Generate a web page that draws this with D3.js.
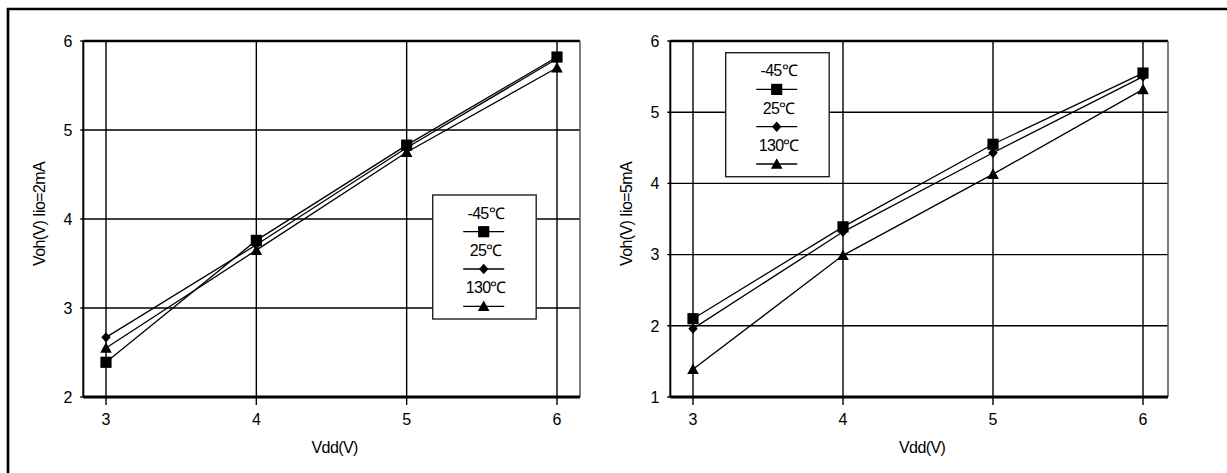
<!DOCTYPE html>
<html>
<head>
<meta charset="utf-8">
<script src="https://cdn.jsdelivr.net/npm/d3@7"></script>
<style>
  html, body { margin: 0; padding: 0; background: #fff; }
  svg { display: block; }
  text { font-family: "Liberation Sans", Arial, sans-serif; fill: #000; }
</style>
</head>
<body>
<svg id="chart" width="1227" height="473"></svg>
<script>
// ---- data ----
const vdd = [3, 4, 5, 6];
const seriesNames = ["-45\u2103", "25\u2103", "130\u2103"];
const seriesShapes = ["square", "diamond", "triangle"];

// Left chart: Voh(V) at Iio = 2mA
const voh2mA_m45 = [2.39, 3.76, 4.83, 5.82];
const voh2mA_25  = [2.67, 3.71, 4.80, 5.80];
const voh2mA_130 = [2.55, 3.65, 4.75, 5.70];
const yTicks2mA = [2, 3, 4, 5, 6];

// Right chart: Voh(V) at Iio = 5mA
const voh5mA_m45 = [2.10, 3.39, 4.55, 5.55];
const voh5mA_25  = [1.96, 3.32, 4.43, 5.50];
const voh5mA_130 = [1.39, 2.99, 4.13, 5.32];
const yTicks5mA = [1, 2, 3, 4, 5, 6];

const xTicks = [3, 4, 5, 6];

// ---- drawing ----
const svg = d3.select("#chart");

// outer frame (top and left edges)
svg.append("line").attr("x1", 7).attr("x2", 1227).attr("y1", 9).attr("y2", 9)
  .attr("stroke", "#000").attr("stroke-width", 2.7);
svg.append("line").attr("x1", 8).attr("x2", 8).attr("y1", 8).attr("y2", 473)
  .attr("stroke", "#000").attr("stroke-width", 2.7);

function symbolPath(shape) {
  if (shape === "square") return d3.symbol().type(d3.symbolSquare).size(125)();
  if (shape === "diamond") return "M0,-5.2L4.7,0L0,5.2L-4.7,0Z";
  return "M0,-5.8L5.8,4.8L-5.8,4.8Z";
}

function drawChart(cfg) {
  const g = svg.append("g");
  const x = d3.scaleLinear().domain([3, 6]).range([cfg.x3, cfg.x6]);
  const y = d3.scaleLinear().domain(cfg.yDomain).range([397, 41]);
  const left = cfg.x3 - 22.7, right = cfg.x6 + cfg.rightPad;
  const top = 41, bottom = 397;

  // grid lines
  g.append("g").selectAll("line").data(xTicks).join("line")
    .attr("x1", d => x(d)).attr("x2", d => x(d))
    .attr("y1", top).attr("y2", bottom + 8)
    .attr("stroke", "#000").attr("stroke-width", 1.4);
  g.append("g").selectAll("line").data(cfg.yTicks).join("line")
    .attr("x1", left - 3).attr("x2", right)
    .attr("y1", d => y(d)).attr("y2", d => y(d))
    .attr("stroke", "#000").attr("stroke-width", 1.4);

  // plot border
  g.append("line").attr("x1", left).attr("x2", right).attr("y1", top).attr("y2", top)
    .attr("stroke", "#000").attr("stroke-width", 2.5);
  g.append("line").attr("x1", left).attr("x2", left).attr("y1", top).attr("y2", bottom)
    .attr("stroke", "#000").attr("stroke-width", 2);
  g.append("line").attr("x1", right).attr("x2", right).attr("y1", top).attr("y2", bottom)
    .attr("stroke", "#555").attr("stroke-width", 1.5);
  g.append("line").attr("x1", left).attr("x2", right).attr("y1", bottom).attr("y2", bottom)
    .attr("stroke", "#000").attr("stroke-width", 3);

  // tick labels
  g.append("g").selectAll("text").data(xTicks).join("text")
    .attr("x", d => x(d)).attr("y", 419).attr("dy", "0.36em")
    .attr("text-anchor", "middle").attr("font-size", 16)
    .text(d => d);
  g.append("g").selectAll("text").data(cfg.yTicks).join("text")
    .attr("x", left - 11).attr("y", d => y(d)).attr("dy", "0.36em")
    .attr("text-anchor", "end").attr("font-size", 16)
    .text(d => d);

  // axis titles
  g.append("text").attr("x", (left + right) / 2 + 3).attr("y", 447).attr("dy", "0.36em")
    .attr("text-anchor", "middle").attr("font-size", 16).attr("letter-spacing", -0.6)
    .text("Vdd(V)");
  g.append("text")
    .attr("transform", `translate(${left - 44},214) rotate(-90)`)
    .attr("dy", "0.36em").attr("text-anchor", "middle").attr("font-size", 16)
    .attr("letter-spacing", -0.6)
    .text(cfg.yLabel);

  // series lines and markers
  const line = d3.line().x((d, i) => x(vdd[i])).y(d => y(d));
  cfg.series.forEach((vals, si) => {
    g.append("path").attr("d", line(vals)).attr("fill", "none")
      .attr("stroke", "#000").attr("stroke-width", 1.3);
  });
  cfg.series.forEach((vals, si) => {
    g.append("g").selectAll("path").data(vals).join("path")
      .attr("transform", (d, i) => `translate(${x(vdd[i])},${y(d)})`)
      .attr("d", symbolPath(seriesShapes[si])).attr("fill", "#000");
  });

  // legend
  const lg = g.append("g").attr("transform", `translate(${cfg.legX},${cfg.legY})`);
  lg.append("rect").attr("x", 0).attr("y", 0).attr("width", 103.5).attr("height", 124)
    .attr("fill", "#fff").attr("stroke", "#222").attr("stroke-width", 1.4);
  seriesNames.forEach((name, i) => {
    const ty = 18 + i * 37.3, ly = 36.7 + i * 37.3;
    lg.append("text").attr("x", 53).attr("y", ty).attr("dy", "0.36em")
      .attr("text-anchor", "middle").attr("font-size", 16).attr("letter-spacing", -0.7)
      .text(name);
    lg.append("line").attr("x1", 30.5).attr("x2", 71.5).attr("y1", ly).attr("y2", ly)
      .attr("stroke", "#000").attr("stroke-width", 1.3);
    lg.append("path").attr("transform", `translate(51,${ly})`)
      .attr("d", symbolPath(seriesShapes[i])).attr("fill", "#000");
  });
}

drawChart({
  x3: 106, x6: 557, rightPad: 23, yDomain: [2, 6], yTicks: yTicks2mA,
  yLabel: "Voh(V)  Iio=2mA",
  series: [voh2mA_m45, voh2mA_25, voh2mA_130],
  legX: 432.7, legY: 195
});
drawChart({
  x3: 693, x6: 1143, rightPad: 25, yDomain: [1, 6], yTicks: yTicks5mA,
  yLabel: "Voh(V)  Iio=5mA",
  series: [voh5mA_m45, voh5mA_25, voh5mA_130],
  legX: 725.7, legY: 52.7
});
</script>
</body>
</html>
